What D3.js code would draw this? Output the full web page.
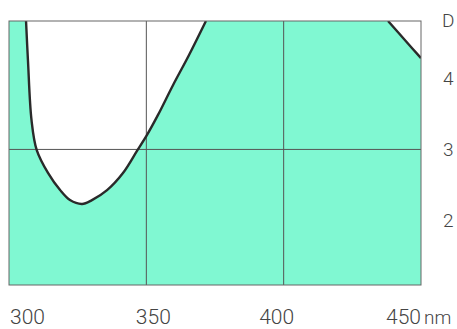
<!DOCTYPE html>
<html>
<head>
<meta charset="utf-8">
<script src="https://cdn.jsdelivr.net/npm/d3@7"></script>
<style>
  html, body { margin: 0; padding: 0; background: #fff; }
  svg text { font-family: Roboto, "Liberation Sans", sans-serif; font-weight: 300; fill: #444; }
</style>
</head>
<body>
<svg id="chart" width="457" height="329"></svg>
<script>
// wavelength (nm) and optical density D
const leftWave = [306.2, 306.9, 308.2, 310.1, 314.2, 318.6, 322.2, 326.6, 330.2, 335.7, 341.5, 346.6, 350.2, 354.2, 359.7, 365.5, 371.7];
const leftD    = [4.80, 4.25, 3.41, 2.99, 2.67, 2.43, 2.29, 2.235, 2.29, 2.43, 2.67, 2.98, 3.20, 3.48, 3.90, 4.32, 4.80];
const rightWave = [438.0, 444.2, 450.0];
const rightD    = [4.80, 4.53, 4.28];

const xTicks = [300, 350, 400, 450];
const yTicks = [2, 3, 4];
const xGrid = [350, 400];
const yGrid = [3];

const svg = d3.select('#chart');
const margin = { top: 21, right: 36, bottom: 44, left: 9 };
const width = 457 - margin.left - margin.right;
const height = 329 - margin.top - margin.bottom;

const x = d3.scaleLinear().domain([300, 450]).range([margin.left, margin.left + width]);
const y = d3.scaleLinear().domain([1.1, 4.8]).range([margin.top + height, margin.top]);

const green = '#80f8d2';

svg.append('defs').append('clipPath').attr('id', 'frame')
  .append('rect')
  .attr('x', x(300)).attr('y', y(4.8))
  .attr('width', x(450) - x(300)).attr('height', y(1.1) - y(4.8));

// green background of the plot
svg.append('rect')
  .attr('x', x(300)).attr('y', y(4.8))
  .attr('width', x(450) - x(300)).attr('height', y(1.1) - y(4.8))
  .attr('fill', green);

const leftPts = leftWave.map((w, i) => [w, leftD[i]]);
const rightPts = rightWave.map((w, i) => [w, rightD[i]]);

// white region above the absorption curve
const area = d3.area()
  .x(d => x(d[0]))
  .y0(y(4.8))
  .y1(d => y(d[1]))
  .curve(d3.curveCatmullRom);

const plot = svg.append('g').attr('clip-path', 'url(#frame)');

plot.selectAll('path.white')
  .data([leftPts, rightPts])
  .join('path')
  .attr('class', 'white')
  .attr('d', area)
  .attr('fill', '#fff');

// grid lines
plot.selectAll('line.vg')
  .data(xGrid)
  .join('line')
  .attr('class', 'vg')
  .attr('x1', d => x(d)).attr('x2', d => x(d))
  .attr('y1', y(4.8)).attr('y2', y(1.1))
  .attr('stroke', '#555').attr('stroke-width', 1);

plot.selectAll('line.hg')
  .data(yGrid)
  .join('line')
  .attr('class', 'hg')
  .attr('x1', x(300)).attr('x2', x(450))
  .attr('y1', d => y(d)).attr('y2', d => y(d))
  .attr('stroke', '#555').attr('stroke-width', 1);

// the curve itself
const line = d3.line()
  .x(d => x(d[0]))
  .y(d => y(d[1]))
  .curve(d3.curveCatmullRom);

plot.selectAll('path.curve')
  .data([leftPts, rightPts])
  .join('path')
  .attr('class', 'curve')
  .attr('d', line)
  .attr('fill', 'none')
  .attr('stroke', '#2a2a2a')
  .attr('stroke-width', 2.4);

// frame
svg.append('rect')
  .attr('x', x(300)).attr('y', y(4.8))
  .attr('width', x(450) - x(300)).attr('height', y(1.1) - y(4.8))
  .attr('fill', 'none')
  .attr('stroke', '#666').attr('stroke-width', 1);

// x labels, printed a bit off the grid like in the original
const xAnchor = { 300: 'start', 350: 'middle', 400: 'middle', 450: 'end' };
const xShift = { 300: 1, 350: 7, 400: -7, 450: 0 };
svg.selectAll('text.xl')
  .data(xTicks)
  .join('text')
  .attr('class', 'xl')
  .attr('x', d => x(d) + xShift[d])
  .attr('y', 324)
  .attr('text-anchor', d => xAnchor[d])
  .attr('font-size', 21)
  .text(d => d);

svg.append('text')
  .attr('x', x(450) + 3)
  .attr('y', 324)
  .attr('font-size', 19)
  .text('nm');

// y labels on the right
svg.selectAll('text.yl')
  .data(yTicks)
  .join('text')
  .attr('class', 'yl')
  .attr('x', 443)
  .attr('y', d => y(d))
  .attr('dy', '0.35em')
  .attr('font-size', 19)
  .text(d => d);

svg.append('text')
  .attr('x', 442)
  .attr('y', 20)
  .attr('dy', '0.35em')
  .attr('font-size', 19)
  .text('D');
</script>
</body>
</html>
